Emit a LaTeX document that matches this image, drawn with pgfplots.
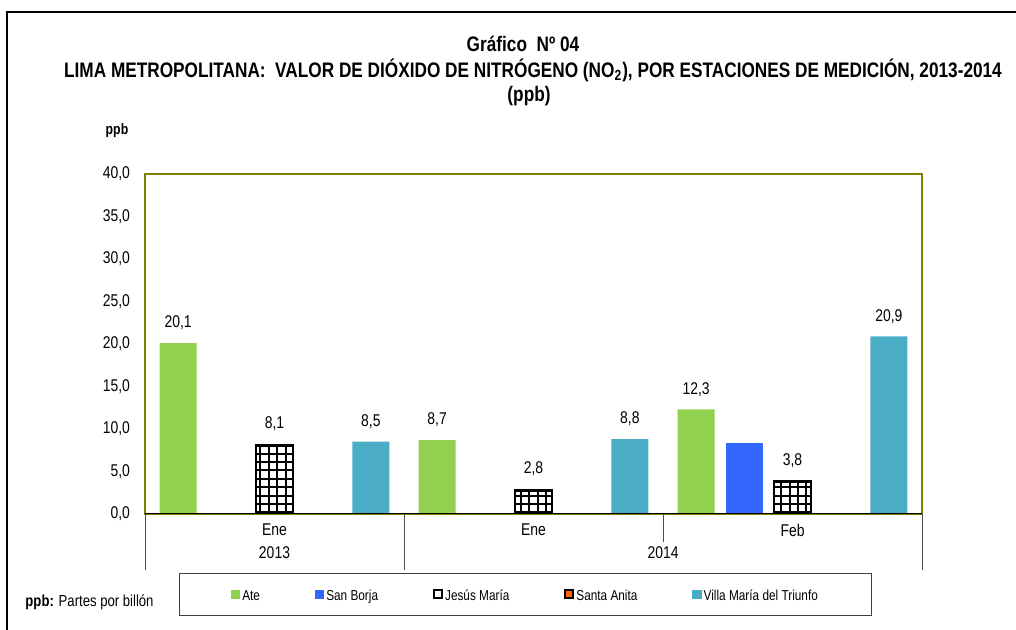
\documentclass[border=0pt]{standalone}
\usepackage{fontspec}
\setmainfont{Liberation Sans}[FakeStretch=0.82]
\usepackage{pgfplots}
\pgfplotsset{compat=1.18}
\usetikzlibrary{patterns}

\definecolor{verde}{RGB}{146,208,80}
\definecolor{azul}{RGB}{51,102,255}
\definecolor{celeste}{RGB}{75,172,198}
\definecolor{oliva}{RGB}{128,128,0}
\definecolor{naranja}{RGB}{255,102,0}

% cuadricula gruesa para Jesus Maria
\pgfdeclarepatternformonly{cuadros}{\pgfqpoint{-1pt}{-1pt}}{\pgfqpoint{5.5pt}{5.5pt}}{\pgfqpoint{4.2pt}{4.2pt}}{
  \pgfsetlinewidth{1pt}
  \pgfpathmoveto{\pgfqpoint{0pt}{0pt}}\pgfpathlineto{\pgfqpoint{0pt}{4.3pt}}
  \pgfpathmoveto{\pgfqpoint{0pt}{0pt}}\pgfpathlineto{\pgfqpoint{4.3pt}{0pt}}
  \pgfusepath{stroke}}

\begin{document}
\begin{tikzpicture}
\useasboundingbox (0,0) rectangle (508pt,315pt);
\draw[line width=1pt] (3.5pt,0) -- (3.5pt,309pt) -- (508pt,309pt);

\node[font=\bfseries\fontsize{10.5}{12}\selectfont] at (261.5pt,293pt) {Gráfico~~Nº 04};
\node[font=\bfseries\fontsize{10.5}{12}\selectfont] at (266.5pt,280pt)
  {LIMA METROPOLITANA:~~VALOR DE DIÓXIDO DE NITRÓGENO (NO\textsubscript{2}), POR ESTACIONES DE MEDICIÓN, 2013-2014};
\node[font=\bfseries\fontsize{10.5}{12}\selectfont] at (264.5pt,267pt) {(ppb)};
\node[font=\bfseries\fontsize{7.5}{9}\selectfont] at (58.5pt,249.5pt) {ppb};
\node[anchor=west, font=\fontsize{8}{9}\selectfont] at (9.2pt,14pt) {\textbf{ppb:} Partes por billón};

\begin{axis}[
  at={(72.5pt,58pt)}, anchor=south west,
  scale only axis, width=388.5pt, height=170pt,
  xmin=0, xmax=3, ymin=0, ymax=40,
  xtick=\empty, ytick={0,5,...,40},
  major tick length=0pt,
  axis line style={oliva, line width=1pt},
  tick label style={font=\fontsize{8.5}{10}\selectfont},
  yticklabel style={xshift=-4pt},
  /pgf/number format/.cd, fixed, fixed zerofill, precision=1, use comma, assume math mode=true,
  /pgfplots/.cd,
  ybar, bar width=18.5pt,
  every node near coord/.append style={font=\fontsize{8.5}{10}\selectfont, yshift=3pt},
  legend image code/.code={\draw[#1] (0pt,-2pt) rectangle (4pt,2pt);},
  legend columns=5,
  legend style={at={(0.4897,-0.236)}, anchor=center, draw=black!75, line width=0.6pt,
    font=\fontsize{7.2}{9}\selectfont, inner xsep=26pt, inner ysep=3.5pt,
    nodes={inner xsep=1pt, inner ysep=2pt, text height=1.5ex, text depth=0.4ex},
    /tikz/every odd column/.append style={column sep=0pt},
    /tikz/every even column/.append style={column sep=26.5pt}},
]
% Ate
\addplot[forget plot, fill=verde, draw=none, bar shift=0pt, nodes near coords] coordinates {(0.128,20.1) (1.128,8.7) (2.128,12.3)};
% San Borja
\addplot[forget plot, fill=azul, draw=none, bar shift=0pt] coordinates {(2.314,8.4)};
% Jesus Maria
\addplot[forget plot, pattern=cuadros, draw=black, line width=1.4pt, bar shift=0pt, nodes near coords] coordinates {(0.5,8.1) (1.5,2.8) (2.5,3.8)};
% Villa Maria del Triunfo
\addplot[forget plot, fill=celeste, draw=none, bar shift=0pt, nodes near coords] coordinates {(0.872,8.5) (1.872,8.8) (2.872,20.9)};

\draw[black, line width=0.8pt] (axis cs:0,0) -- (axis cs:3,0);

\addlegendimage{fill=verde, draw=verde}
\addlegendentry{Ate}
\addlegendimage{fill=azul, draw=azul}
\addlegendentry{San Borja}
\addlegendimage{fill=white, draw=black, line width=1pt}
\addlegendentry{Jesús María}
\addlegendimage{fill=naranja, draw=black, line width=1pt}
\addlegendentry{Santa Anita}
\addlegendimage{fill=celeste, draw=celeste}
\addlegendentry{Villa María del Triunfo}
\end{axis}

\draw[black!70, line width=0.5pt] (72.5pt,58pt) -- (72.5pt,30pt)
  (202pt,58pt) -- (202pt,30pt) (331.5pt,58pt) -- (331.5pt,44pt) (461pt,58pt) -- (461pt,30pt);
\begin{scope}[every node/.style={font=\fontsize{8.5}{10}\selectfont}]
\node at (137.25pt,50pt) {Ene};
\node at (266.75pt,50pt) {Ene};
\node at (396.25pt,50pt) {Feb};
\node at (137.25pt,38.5pt) {2013};
\node at (331.5pt,38.5pt) {2014};
\end{scope}
\end{tikzpicture}
\end{document}
